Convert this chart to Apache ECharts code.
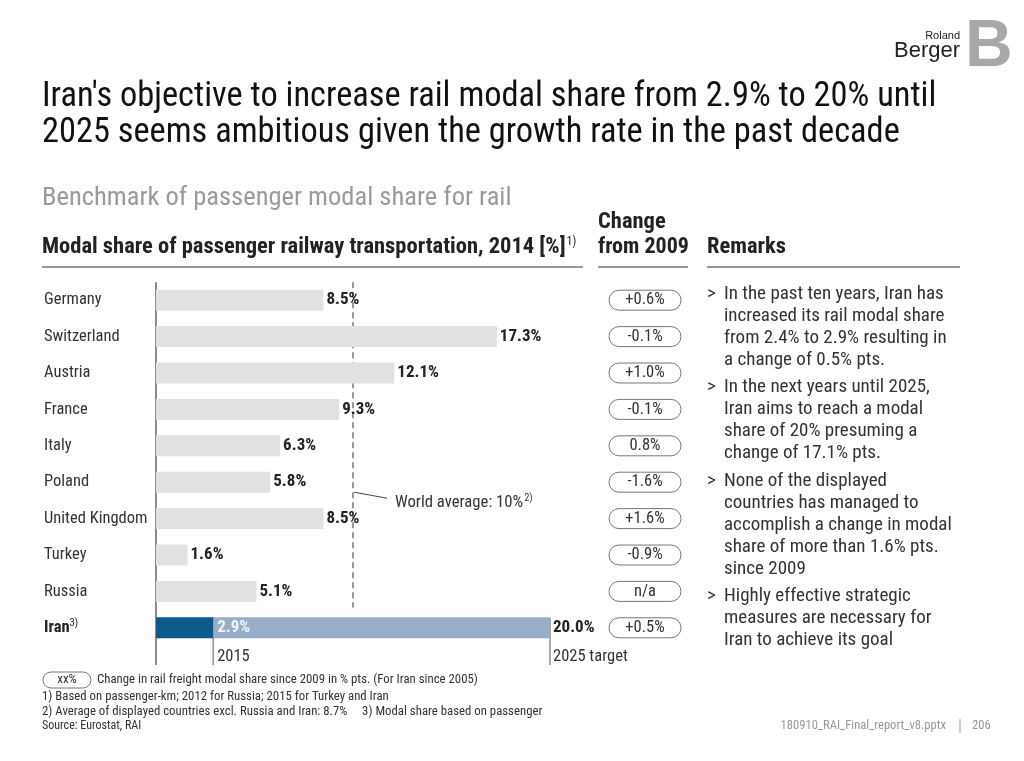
<!DOCTYPE html>
<html><head><meta charset="utf-8">
<script src="https://cdn.jsdelivr.net/npm/echarts@6/dist/echarts.min.js"></script>
<style>html,body{margin:0;padding:0;background:#fff}#c{width:1024px;height:761px}</style>
</head><body><div id="c"></div>
<script>
const categories = ['Germany','Switzerland','Austria','France','Italy','Poland','United Kingdom','Turkey','Russia','Iran'];
const shares2014 = [8.5, 17.3, 12.1, 9.3, 6.3, 5.8, 8.5, 1.6, 5.1, null];
const iranCurrent = 2.9;
const iranTarget = 20.0;
const worldAverage = 10;
const changes = ['+0.6%','-0.1%','+1.0%','-0.1%','0.8%','-1.6%','+1.6%','-0.9%','n/a','+0.5%'];
const iranYears = ['2015', '2025 target'];
const titleLines = ["Iran's objective to increase rail modal share from 2.9% to 20% until", "2025 seems ambitious given the growth rate in the past decade"];
const subtitle = 'Benchmark of passenger modal share for rail';
const remarks = [
  ['In the past ten years, Iran has','increased its rail modal share','from 2.4% to 2.9% resulting in','a change of 0.5% pts.'],
  ['In the next years until 2025,','Iran aims to reach a modal','share of 20% presuming a','change of 17.1% pts.'],
  ['None of the displayed','countries has managed to','accomplish a change in modal','share of more than 1.6% pts.','since 2009'],
  ['Highly effective strategic','measures are necessary for','Iran to achieve its goal']
];
const footnotes = ['1) Based on passenger-km; 2012 for Russia; 2015 for Turkey and Iran','2) Average of displayed countries excl. Russia and Iran: 8.7%     3) Modal share based on passenger','Source: Eurostat, RAI'];

const F = "'Liberation Sans Narrow','Arial Narrow','Roboto Condensed',sans-serif";
const GREY = '#e1e1e1', DARK = '#0d5a8a', LIGHT = '#98adc7';
const n = categories.length, last = n - 1;

const greyData = shares2014.map(v => v == null ? '-' : v);
const darkData = categories.map((c, i) => i === last ? iranCurrent : '-');
const lightData = categories.map((c, i) => i === last ? +(iranTarget - iranCurrent).toFixed(1) : '-');

const chart = echarts.init(document.getElementById('c'));
const option = {
  animation: false,
  textStyle: { fontFamily: F },
  grid: [
    { left: 156, top: 282, width: 394, height: 364 },
    { left: 609, top: 282, width: 72, height: 364 }
  ],
  xAxis: [
    { gridIndex: 0, type: 'value', min: 0, max: 20, show: false },
    { gridIndex: 1, type: 'value', min: 0, max: 1, show: false }
  ],
  yAxis: [
    { gridIndex: 0, type: 'category', data: categories, inverse: true,
      axisLine: { show: false }, axisTick: { show: false },
      axisLabel: { margin: 112, align: 'left', color: '#333', fontSize: 16.5, fontFamily: F,
        formatter: (v, i) => i === last ? '{b|' + v + '}{s|3)}' : v,
        rich: { b: { fontWeight: 'bold', fontSize: 16.5, color: '#222', fontFamily: F }, s: { fontSize: 10.5, color: '#222', verticalAlign: 'top', padding: [0,0,8,0], fontFamily: F } } } },
    { gridIndex: 1, type: 'category', data: categories, inverse: true, show: false }
  ],
  series: [
    { type: 'bar', stack: 't', data: greyData, barWidth: 21, itemStyle: { color: GREY },
      label: { show: true, position: 'right', distance: 3, fontWeight: 'bold', fontSize: 17, color: '#222', fontFamily: F,
        formatter: p => p.value.toFixed(1) + '%' } },
    { type: 'bar', stack: 't', data: darkData, barWidth: 21, itemStyle: { color: DARK },
      label: { show: true, position: 'right', distance: 4, fontWeight: 'bold', fontSize: 17, color: '#eef2f7', fontFamily: F,
        formatter: p => p.value.toFixed(1) + '%' }, z: 3 },
    { type: 'bar', stack: 't', data: lightData, barWidth: 21, itemStyle: { color: LIGHT },
      label: { show: true, position: 'right', distance: 3, fontWeight: 'bold', fontSize: 17, color: '#222', fontFamily: F,
        formatter: () => iranTarget.toFixed(1) + '%' }, z: 2 },
    { type: 'custom', xAxisIndex: 1, yAxisIndex: 1, data: changes.map((c, i) => [0, i, c]),
      renderItem: (params, api) => {
        const a = api.coord([0, api.value(1)]);
        const b = api.coord([1, api.value(1)]);
        return { type: 'rect', shape: { x: a[0], y: a[1] - 10, width: b[0] - a[0], height: 20, r: 10 },
          style: { fill: '#fff', stroke: '#777', lineWidth: 1 },
          textContent: { style: { text: changes[params.dataIndex], fill: '#333', font: '16.5px ' + F } },
          textConfig: { position: 'inside' } };
      } }
  ]
};
chart.setOption(option);

const px = (x, i) => chart.convertToPixel({ gridIndex: 0 }, [x, i]);
const g = [];
const txt = (x, y, text, font, fill, extra) => g.push(Object.assign({ type: 'text', style: Object.assign({ x, y, text, font, fill: fill || '#222', verticalAlign: 'middle' }, extra || {}) }));
const line = (x1, y1, x2, y2, stroke, w, dash) => g.push({ type: 'line', shape: { x1, y1, x2, y2 }, style: { stroke, lineWidth: w || 1, lineDash: dash || null } });

// titles
txt(42, 97, titleLines[0], '34.4px ' + F, '#111');
txt(42, 133, titleLines[1], '34.4px ' + F, '#111');
txt(42, 198, subtitle, '26.5px ' + F, '#9a9a9a');
// headers
g.push({ type: 'text', style: { x: 42, y: 247, verticalAlign: 'middle', text: '{h|Modal share of passenger railway transportation, 2014 [%]}{s|1)}',
  rich: { h: { font: 'bold 22.5px ' + F, fill: '#222' }, s: { font: '12px ' + F, fill: '#222', verticalAlign: 'top', padding: [0,0,11,1] } } } });
txt(598, 222, 'Change', 'bold 22.5px ' + F);
txt(598, 247, 'from 2009', 'bold 22px ' + F);
txt(707, 247, 'Remarks', 'bold 22.5px ' + F);
line(42, 267, 583, 267, '#999', 2);
line(598, 267, 688, 267, '#999', 2);
line(707, 267, 960, 267, '#999', 2);

// axis & annotations
const top0 = px(0, 0)[1] - 18, iranY = px(0, last)[1];
const x0 = px(0, 0)[0];
line(x0, top0, x0, 665, '#666', 1.5);
const wa = px(worldAverage, 0)[0];
line(wa, top0, wa, px(0, last - 1)[1] + 16, '#777', 1.5, [6, 4]);
line(wa + 1, px(0, 5)[1] + 10, wa + 34, px(0, 5)[1] + 16, '#444', 1);
g.push({ type: 'text', style: { x: wa + 42, y: px(0, 6)[1] - 16, verticalAlign: 'middle', text: '{t|World average: ' + worldAverage + '%}{s|2)}',
  rich: { t: { font: '16.7px ' + F, fill: '#333' }, s: { font: '10.5px ' + F, fill: '#333', verticalAlign: 'top', padding: [0,0,8,1] } } } });
const xc = px(iranCurrent, last)[0], xt = px(iranTarget, last)[0];
line(xc, iranY - 10, xc, 665, '#555', 1);
line(xt, iranY - 10, xt, 665, '#555', 1);
txt(xc + 4, 657, iranYears[0], '16.5px ' + F, '#333');
txt(xt + 3, 657, iranYears[1], '16.5px ' + F, '#333');

// remarks
let ry = 294;
remarks.forEach((blk, bi) => {
  blk.forEach((l, li) => {
    if (li === 0) txt(707, ry, '>', '19px ' + F, '#333');
    txt(724, ry, l, '19px ' + F, '#333');
    ry += 22;
  });
  ry += bi === 1 ? 6 : 5;
});

// footnotes
g.push({ type: 'rect', shape: { x: 43, y: 672, width: 48, height: 16, r: 8 }, style: { fill: '#fff', stroke: '#777', lineWidth: 1 } });
txt(67, 680, 'xx%', '13px ' + F, '#333', { align: 'center' });
txt(97, 680, 'Change in rail freight modal share since 2009 in % pts. (For Iran since 2005)', '12.8px ' + F, '#333');
txt(42, 697, footnotes[0], '12.8px ' + F, '#333');
txt(42, 712, footnotes[1], '12.8px ' + F, '#333');
txt(42, 726, footnotes[2], '12px ' + F, '#333');
txt(946, 726, '180910_RAI_Final_report_v8.pptx', '12.6px ' + F, '#999', { align: 'right' });
line(960, 719, 960, 733, '#999', 1);
txt(972, 726, '206', '12.6px ' + F, '#999');

// logo
txt(960, 36, 'Roland', '11px Liberation Sans', '#222', { align: 'right' });
txt(960, 51, 'Berger', '22px Liberation Sans', '#222', { align: 'right' });
g.push({ type: 'text', style: { x: 965, y: 48, verticalAlign: 'middle', text: 'B', font: 'bold 66px Liberation Sans', fill: '#a8a8a8' } });

chart.setOption({ graphic: g });
</script></body></html>
